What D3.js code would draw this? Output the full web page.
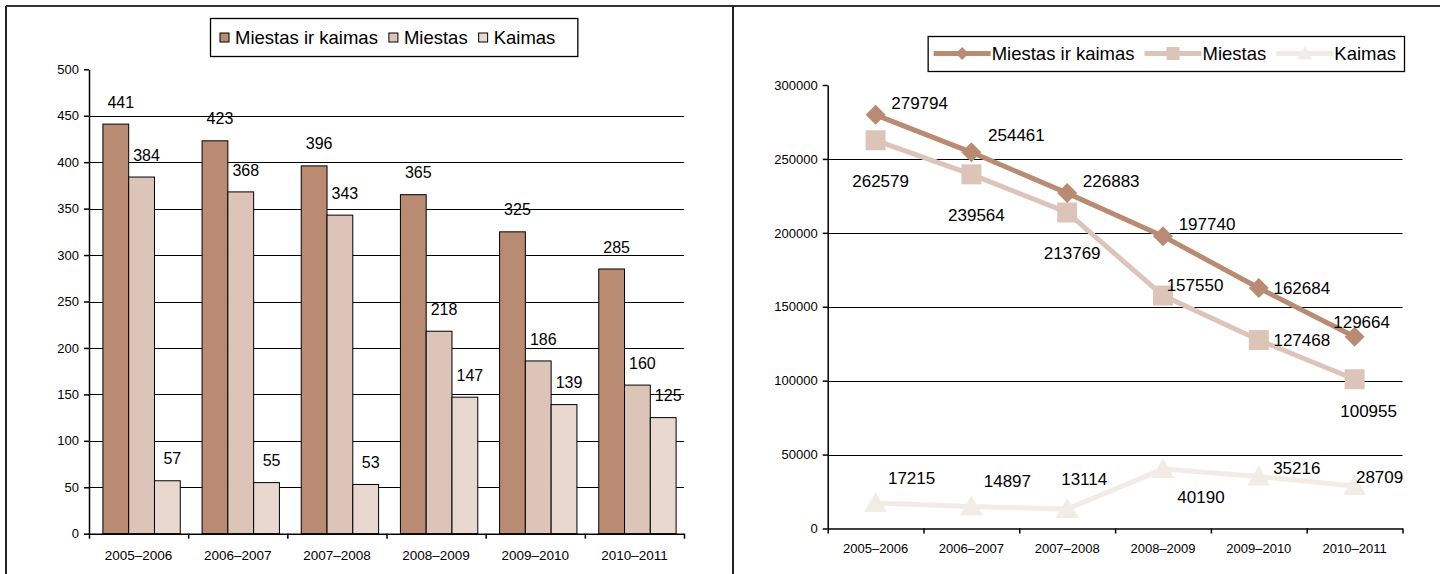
<!DOCTYPE html>
<html>
<head>
<meta charset="utf-8">
<script src="https://cdn.jsdelivr.net/npm/d3@7"></script>
<style>
  html, body { margin: 0; padding: 0; background: #fff; }
  svg { display: block; font-family: "Liberation Sans", Arial, sans-serif; }
</style>
</head>
<body>
<svg id="chart" width="1440" height="574"></svg>
<script>
// ---------- DATA ----------
const categories = ["2005–2006", "2006–2007", "2007–2008", "2008–2009", "2009–2010", "2010–2011"];
const seriesNames = ["Miestas ir kaimas", "Miestas", "Kaimas"];

// left chart (bars)
const barTotal = [441, 423, 396, 365, 325, 285];
const barCity  = [384, 368, 343, 218, 186, 160];
const barRural = [57, 55, 53, 147, 139, 125];
const barTicks = [0, 50, 100, 150, 200, 250, 300, 350, 400, 450, 500];

// right chart (lines)
const lineTotal = [279794, 254461, 226883, 197740, 162684, 129664];
const lineCity  = [262579, 239564, 213769, 157550, 127468, 100955];
const lineRural = [17215, 14897, 13114, 40190, 35216, 28709];
const lineTicks = [0, 50000, 100000, 150000, 200000, 250000, 300000];

// ---------- STYLE / LAYOUT ----------
const barColors  = ["#b88b72", "#dcc5b8", "#e8d8cf"];
const lineColors = ["#b88b72", "#dcc5b8", "#f2ece7"];
const markerTypes = ["diamond", "square", "triangle"];
// named label placements for the line chart (relative to the point)
const placeOffsets = {
  NE: [44, -12], NEhigh: [45, -17], E: [43, 0], N: [7, -15],
  S: [5, 41], SE: [14, 32], NEs: [32, -11],
  KN: [36, -25], KNl: [17, -30], KS: [38, 28], KE: [38, -8], KEs: [25, -9]
};
const linePlacements = [
  ["NE", "NEhigh", "NE", "NE", "E", "N"],
  ["S", "S", "S", "NEs", "E", "SE"],
  ["KN", "KN", "KNl", "KS", "KE", "KEs"]
];

const svg = d3.select("#chart");
const ink = "#000";

// ---------- FRAME ----------
svg.append("line").attr("x1", 6).attr("x2", 1440).attr("y1", 6).attr("y2", 6)
  .attr("stroke", "#333").attr("stroke-width", 2);
svg.append("line").attr("x1", 6).attr("x2", 6).attr("y1", 6).attr("y2", 574)
  .attr("stroke", "#222").attr("stroke-width", 2);
svg.append("line").attr("x1", 733).attr("x2", 733).attr("y1", 6).attr("y2", 574)
  .attr("stroke", "#222").attr("stroke-width", 2);

// ---------- LEFT: BAR CHART ----------
(function () {
  const x0 = 89, x1 = 684, yBottom = 533.7, yTop = 69.3;
  const xL = d3.scaleBand().domain(categories).range([x0, x1]).padding(0);
  const yL = d3.scaleLinear().domain([0, 500]).range([yBottom, yTop]);
  const xIdx = d3.scaleLinear().domain([0, categories.length]).range([x0, x1]);
  const g = svg.append("g");

  // gridlines
  g.append("g").selectAll("line")
    .data(barTicks.filter(t => t > 0 && t < 500))
    .join("line")
    .attr("x1", x0).attr("x2", x1)
    .attr("y1", d => Math.round(yL(d)) + 0.5).attr("y2", d => Math.round(yL(d)) + 0.5)
    .attr("stroke", ink).attr("stroke-width", 1);

  // bars
  const series = [barTotal, barCity, barRural];
  const bw = xL.bandwidth() * 0.26;
  const shift = 3;
  const groupLeft = (c) => xL(c) + (xL.bandwidth() - 3 * bw) / 2 + shift;
  series.forEach((vals, si) => {
    g.append("g").selectAll("rect")
      .data(vals.map((v, i) => ({ v, c: categories[i] })))
      .join("rect")
      .attr("x", d => groupLeft(d.c) + si * bw)
      .attr("y", d => yL(d.v))
      .attr("width", bw)
      .attr("height", d => yL(0) - yL(d.v))
      .attr("fill", barColors[si])
      .attr("stroke", ink).attr("stroke-width", 1);
    g.append("g").selectAll("text")
      .data(vals.map((v, i) => ({ v, c: categories[i] })))
      .join("text")
      .attr("x", d => groupLeft(d.c) + si * bw + bw / 2 + 5)
      .attr("y", d => yL(d.v) - 22)
      .attr("dy", "0.35em")
      .attr("text-anchor", "middle")
      .attr("font-size", 16)
      .attr("fill", ink)
      .text(d => d.v);
  });

  // y axis
  const ya = g.append("g").attr("transform", `translate(${x0},0)`)
    .call(d3.axisLeft(yL).tickValues(barTicks).tickSize(5).tickSizeOuter(0).tickPadding(5));
  ya.select(".domain").attr("stroke", ink).attr("stroke-width", 1.5);
  ya.selectAll("line").attr("stroke", ink).attr("stroke-width", 1.5);
  ya.selectAll("text").attr("font-size", 13).attr("font-family", "Liberation Sans, Arial, sans-serif").attr("fill", ink);

  // x axis: boundary ticks + centered labels
  const xa = g.append("g").attr("transform", `translate(0,${yBottom})`)
    .call(d3.axisBottom(xIdx).tickValues(d3.range(categories.length + 1)).tickFormat("").tickSize(5).tickSizeOuter(0));
  xa.select(".domain").attr("stroke", ink).attr("stroke-width", 1.5);
  xa.selectAll("line").attr("stroke", ink).attr("stroke-width", 1.5);
  const xl = g.append("g").attr("transform", `translate(0,${yBottom})`)
    .call(d3.axisBottom(xL).tickSize(0).tickPadding(17));
  xl.select(".domain").remove();
  xl.selectAll("text").attr("font-size", 13.5).attr("font-family", "Liberation Sans, Arial, sans-serif").attr("fill", ink);

  // legend
  const lg = g.append("g");
  const items = lg.selectAll("g").data(seriesNames).join("g");
  items.append("rect").attr("width", 9).attr("height", 9)
    .attr("fill", (d, i) => barColors[i]).attr("stroke", ink).attr("stroke-width", 1);
  items.append("text").attr("x", 15).attr("y", 4.5).attr("dy", "0.35em")
    .attr("font-size", 18.5).attr("fill", ink).text(d => d);
  let cx = 0;
  const pos = [];
  items.each(function () {
    const w = d3.select(this).select("text").node().getComputedTextLength();
    pos.push(cx);
    cx += 15 + w + 11;
  });
  const total = cx - 11;
  const boxL = 210, boxT = 18, boxH = 38, padL = 10, padR = 22;
  const boxW = total + padL + padR;
  lg.insert("rect", ":first-child")
    .attr("x", boxL + 0.5).attr("y", boxT + 0.5).attr("width", boxW).attr("height", boxH)
    .attr("fill", "#fff").attr("stroke", ink).attr("stroke-width", 1.3);
  items.attr("transform", (d, i) => `translate(${boxL + padL + pos[i]},${boxT + boxH / 2 - 4})`);
})();

// ---------- RIGHT: LINE CHART ----------
(function () {
  const x0 = 827.7, x1 = 1402.5, yBottom = 528.5, yTop = 85;
  const xR = d3.scaleBand().domain(categories).range([x0, x1]).padding(0);
  const yR = d3.scaleLinear().domain([0, 300000]).range([yBottom, yTop]);
  const xIdx = d3.scaleLinear().domain([0, categories.length]).range([x0, x1]);
  const cx = c => xR(c) + xR.bandwidth() / 2;
  const g = svg.append("g");

  // gridlines
  g.append("g").selectAll("line")
    .data(lineTicks.filter(t => t > 0 && t < 300000))
    .join("line")
    .attr("x1", x0).attr("x2", x1)
    .attr("y1", d => Math.round(yR(d)) + 0.5).attr("y2", d => Math.round(yR(d)) + 0.5)
    .attr("stroke", ink).attr("stroke-width", 1);

  // y axis
  const ya = g.append("g").attr("transform", `translate(${x0},0)`)
    .call(d3.axisLeft(yR).tickValues(lineTicks).tickFormat(d3.format("d")).tickSize(5).tickSizeOuter(0).tickPadding(5));
  ya.select(".domain").attr("stroke", ink).attr("stroke-width", 1.5);
  ya.selectAll("line").attr("stroke", ink).attr("stroke-width", 1.5);
  ya.selectAll("text").attr("font-size", 13).attr("font-family", "Liberation Sans, Arial, sans-serif").attr("fill", ink);

  // x axis
  const xa = g.append("g").attr("transform", `translate(0,${yBottom})`)
    .call(d3.axisBottom(xIdx).tickValues(d3.range(categories.length + 1)).tickFormat("").tickSize(5).tickSizeOuter(0));
  xa.select(".domain").attr("stroke", ink).attr("stroke-width", 1.5);
  xa.selectAll("line").attr("stroke", ink).attr("stroke-width", 1.5);
  const xl = g.append("g").attr("transform", `translate(0,${yBottom})`)
    .call(d3.axisBottom(xR).tickSize(0).tickPadding(15));
  xl.select(".domain").remove();
  xl.selectAll("text").attr("font-size", 13).attr("font-family", "Liberation Sans, Arial, sans-serif").attr("fill", ink);

  const markerPath = (type) => {
    if (type === "diamond") return "M0,-10L10,0L0,10L-10,0Z";
    if (type === "square") return "M-10,-10H10V10H-10Z";
    return "M0,-11L11.5,9L-11.5,9Z";
  };

  const allSeries = [lineTotal, lineCity, lineRural];
  const order = [2, 1, 0];
  const line = d3.line().x(d => cx(d.c)).y(d => yR(d.v));
  order.forEach((si) => {
    const data = allSeries[si].map((v, i) => ({ v, c: categories[i], i }));
    g.append("path").datum(data).attr("d", line)
      .attr("fill", "none").attr("stroke", lineColors[si]).attr("stroke-width", 5);
    g.append("g").selectAll("path").data(data).join("path")
      .attr("d", markerPath(markerTypes[si]))
      .attr("transform", d => `translate(${cx(d.c)},${yR(d.v)})`)
      .attr("fill", lineColors[si]);
  });
  allSeries.forEach((vals, si) => {
    g.append("g").selectAll("text")
      .data(vals.map((v, i) => ({ v, c: categories[i], i })))
      .join("text")
      .attr("x", d => cx(d.c) + placeOffsets[linePlacements[si][d.i]][0])
      .attr("y", d => yR(d.v) + placeOffsets[linePlacements[si][d.i]][1])
      .attr("dy", "0.35em").attr("text-anchor", "middle")
      .attr("font-size", 17).attr("fill", ink)
      .text(d => d.v);
  });

  // legend
  const lg = g.append("g");
  const items = lg.selectAll("g").data(seriesNames).join("g");
  items.append("line").attr("x1", 0).attr("x2", 57).attr("y1", 0).attr("y2", 0)
    .attr("stroke", (d, i) => lineColors[i]).attr("stroke-width", 5);
  items.append("path").attr("d", (d, i) => markerPath(markerTypes[i]))
    .attr("transform", "translate(28.5,0) scale(0.65)")
    .attr("fill", (d, i) => lineColors[i]);
  items.append("text").attr("x", 58).attr("y", 0).attr("dy", "0.35em")
    .attr("font-size", 18.5).attr("fill", ink).text(d => d);
  let px = 0;
  const pos = [];
  items.each(function () {
    const w = d3.select(this).select("text").node().getComputedTextLength();
    pos.push(px);
    px += 58 + w + 10;
  });
  const total = px - 10;
  const boxR = 1404, boxT = 36, boxH = 35, padL = 6, padR = 8;
  const boxW = total + padL + padR;
  const boxL = boxR - boxW;
  lg.insert("rect", ":first-child")
    .attr("x", boxL + 0.5).attr("y", boxT + 0.5).attr("width", boxW).attr("height", boxH)
    .attr("fill", "#fff").attr("stroke", ink).attr("stroke-width", 1.3);
  items.attr("transform", (d, i) => `translate(${boxL + padL + pos[i]},${boxT + boxH / 2})`);
})();
</script>
</body>
</html>
